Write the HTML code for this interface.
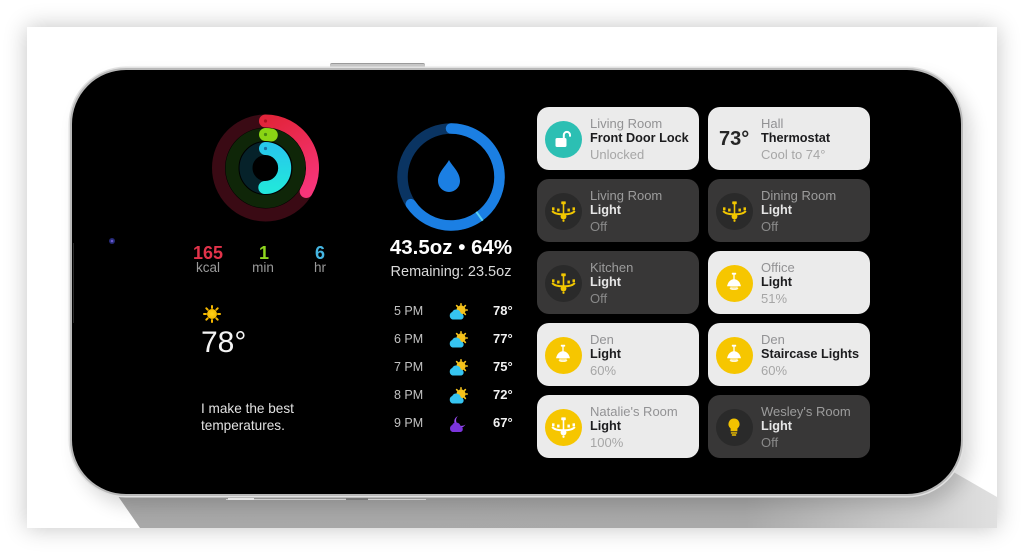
<!DOCTYPE html>
<html>
<head>
<meta charset="utf-8">
<style>
  html,body{margin:0;padding:0;}
  body{width:1024px;height:555px;overflow:hidden;background:#fff;position:relative;font-family:"Liberation Sans",Arial,sans-serif;}
  .abs{position:absolute;}
  .tile{position:absolute;width:162px;height:63px;border-radius:12px;}
  .light{background:#ebebeb;}
  .dark{background:#383737;}
  .ic{position:absolute;left:7.5px;top:13.5px;width:37px;height:37px;border-radius:50%;display:flex;align-items:center;justify-content:center;}
  .txt{position:absolute;left:53px;top:9px;line-height:15.4px;white-space:nowrap;}
  .txt .r{font-size:13px;}
  .txt .n{font-size:12.7px;font-weight:bold;}
  .txt .s{font-size:13px;}
  .light .r{color:#929294;} .light .n{color:#1c1c1e;} .light .s{color:#a6a6a6;}
  .dark .r{color:#9c9c9c;} .dark .n{color:#e6e6e6;} .dark .s{color:#8a8a8a;}
  .hr{position:absolute;left:394px;font-size:12.5px;color:#c2c2c2;line-height:16px;}
  .ht{position:absolute;left:493px;font-size:13px;color:#f2f2f2;font-weight:bold;line-height:16px;}
</style>
</head>
<body>
<!-- card -->
<div class="abs" style="left:27px;top:27px;width:970px;height:501px;background:#fff;box-shadow:0 0 22px rgba(0,0,0,.24);"></div>
<!-- bottom shadow band -->
<div class="abs" style="left:100px;top:470px;width:897px;height:58px;background:linear-gradient(to right,#a8a8a8 0%,#a9a9a9 72%,#e0e0e0 100%);clip-path:polygon(0 0,850px 0,897px 27px,100% 100%,40px 100%);"></div>
<!-- top button -->
<div class="abs" style="left:330px;top:62.5px;width:95px;height:4px;background:#c9c9c9;border-radius:2px;border-top:1px solid #9c9c9c;"></div>
<!-- phone -->
<div class="abs" style="left:70px;top:68px;width:889px;height:424px;background:#000;border:2px solid #b9b9b9;border-radius:56px;box-shadow:0 0 0 1.5px #e2e2e2, 8px 10px 18px rgba(0,0,0,.16);"></div>
<!-- bottom buttons details -->
<div class="abs" style="left:226px;top:499px;width:200px;height:1px;background:#cfcfcf;"></div>
<div class="abs" style="left:228px;top:498px;width:26px;height:2px;background:#e6e6e6;"></div>
<div class="abs" style="left:346px;top:498px;width:22px;height:2px;background:#777;"></div>

<!-- graphics -->
<svg class="abs" style="left:0;top:0" width="1024" height="555" viewBox="0 0 1024 555">
  <defs>
    <linearGradient id="rg" gradientUnits="userSpaceOnUse" x1="265" y1="121" x2="306" y2="192">
      <stop offset="0" stop-color="#e2243a"/><stop offset="1" stop-color="#f7357a"/>
    </linearGradient>
    <linearGradient id="cg" gradientUnits="userSpaceOnUse" x1="265" y1="148" x2="265" y2="188">
      <stop offset="0" stop-color="#27c8ec"/><stop offset="1" stop-color="#22e6dc"/>
    </linearGradient>
    <radialGradient id="sunglow"><stop offset="0" stop-color="#ffd21a"/><stop offset="1" stop-color="#f5b800"/></radialGradient>
  </defs>
  <line x1="73.5" y1="243" x2="73.5" y2="323" stroke="#2a2a2a" stroke-width="1"/>
  <circle cx="112" cy="241" r="3" fill="#262a78"/>
  <circle cx="112" cy="241" r="1.3" fill="#6a5ad0"/>

  <!-- activity rings -->
  <circle cx="265.5" cy="168" r="47" fill="none" stroke="#3a0a14" stroke-width="13"/>
  <circle cx="265.5" cy="168" r="33.5" fill="none" stroke="#0f2608" stroke-width="13"/>
  <circle cx="265.5" cy="168" r="19.5" fill="none" stroke="#06222a" stroke-width="13"/>
  <path d="M265.5 121 A47 47 0 0 1 306.2 191.5" fill="none" stroke="url(#rg)" stroke-width="13" stroke-linecap="round"/>
  <path d="M265.5 134.5 A33.5 33.5 0 0 1 271.3 135" fill="none" stroke="#8ad414" stroke-width="13" stroke-linecap="round"/>
  <path d="M265.5 148.5 A19.5 19.5 0 1 1 264.8 187.5" fill="none" stroke="url(#cg)" stroke-width="13" stroke-linecap="round"/>
  <circle cx="265.5" cy="121" r="1.6" fill="#b01020"/>
  <circle cx="265.5" cy="134.5" r="1.6" fill="#4a8a10"/>
  <circle cx="265.5" cy="148.5" r="1.6" fill="#1a70a0"/>

  <!-- water ring -->
  <circle cx="451" cy="177" r="48.5" fill="none" stroke="#0a3462" stroke-width="10.5"/>
  <path d="M451 128.5 A48.5 48.5 0 1 1 410.8 204.1" fill="none" stroke="#1b7fe3" stroke-width="10.5" stroke-linecap="round"/>
  <line x1="476.3" y1="211.8" x2="482.7" y2="220.7" stroke="#5ad2f5" stroke-width="2"/>
  <path d="M449 160 C452 166 460 172 460 181 A11 11 0 0 1 438 181 C438 172 446 166 449 160 Z" fill="#1b7fe3"/>

  <!-- left sun -->
  <g transform="translate(212,314)">
    <g stroke="#f5b800" stroke-width="2" stroke-linecap="round">
      <line x1="0" y1="-8" x2="0" y2="-6"/><line x1="0" y1="8" x2="0" y2="6"/>
      <line x1="-8" y1="0" x2="-6" y2="0"/><line x1="8" y1="0" x2="6" y2="0"/>
      <line x1="-5.7" y1="-5.7" x2="-4.3" y2="-4.3"/><line x1="5.7" y1="5.7" x2="4.3" y2="4.3"/>
      <line x1="-5.7" y1="5.7" x2="-4.3" y2="4.3"/><line x1="5.7" y1="-5.7" x2="4.3" y2="-4.3"/>
    </g>
    <circle r="5" fill="url(#sunglow)"/>
  </g>

  <!-- hourly icons -->
  <g transform="translate(449,303)">
    <g stroke="#f5c21b" stroke-width="1.6" stroke-linecap="round">
      <line x1="12" y1="0.8" x2="12" y2="2"/><line x1="18.2" y1="7" x2="17" y2="7"/>
      <line x1="16.4" y1="2.6" x2="15.5" y2="3.5"/><line x1="16.4" y1="11.4" x2="15.5" y2="10.5"/>
      <line x1="7.6" y1="2.6" x2="8.5" y2="3.5"/>
    </g>
    <circle cx="12" cy="7" r="4.6" fill="#f5c21b"/>
    <path d="M3.5 16.5 A4 4 0 0 1 3.2 9 A4.6 4.6 0 0 1 11.8 10.5 A3 3 0 0 1 11.5 16.5 Z" fill="#36c4f0"/>
  </g>
  <g transform="translate(449,331)">
    <g stroke="#f5c21b" stroke-width="1.6" stroke-linecap="round">
      <line x1="12" y1="0.8" x2="12" y2="2"/><line x1="18.2" y1="7" x2="17" y2="7"/>
      <line x1="16.4" y1="2.6" x2="15.5" y2="3.5"/><line x1="16.4" y1="11.4" x2="15.5" y2="10.5"/>
      <line x1="7.6" y1="2.6" x2="8.5" y2="3.5"/>
    </g>
    <circle cx="12" cy="7" r="4.6" fill="#f5c21b"/>
    <path d="M3.5 16.5 A4 4 0 0 1 3.2 9 A4.6 4.6 0 0 1 11.8 10.5 A3 3 0 0 1 11.5 16.5 Z" fill="#36c4f0"/>
  </g>
  <g transform="translate(449,359)">
    <g stroke="#f5c21b" stroke-width="1.6" stroke-linecap="round">
      <line x1="12" y1="0.8" x2="12" y2="2"/><line x1="18.2" y1="7" x2="17" y2="7"/>
      <line x1="16.4" y1="2.6" x2="15.5" y2="3.5"/><line x1="16.4" y1="11.4" x2="15.5" y2="10.5"/>
      <line x1="7.6" y1="2.6" x2="8.5" y2="3.5"/>
    </g>
    <circle cx="12" cy="7" r="4.6" fill="#f5c21b"/>
    <path d="M3.5 16.5 A4 4 0 0 1 3.2 9 A4.6 4.6 0 0 1 11.8 10.5 A3 3 0 0 1 11.5 16.5 Z" fill="#36c4f0"/>
  </g>
  <g transform="translate(449,387)">
    <g stroke="#f5c21b" stroke-width="1.6" stroke-linecap="round">
      <line x1="12" y1="0.8" x2="12" y2="2"/><line x1="18.2" y1="7" x2="17" y2="7"/>
      <line x1="16.4" y1="2.6" x2="15.5" y2="3.5"/><line x1="16.4" y1="11.4" x2="15.5" y2="10.5"/>
      <line x1="7.6" y1="2.6" x2="8.5" y2="3.5"/>
    </g>
    <circle cx="12" cy="7" r="4.6" fill="#f5c21b"/>
    <path d="M3.5 16.5 A4 4 0 0 1 3.2 9 A4.6 4.6 0 0 1 11.8 10.5 A3 3 0 0 1 11.5 16.5 Z" fill="#36c4f0"/>
  </g>
  <g transform="translate(449,415)">
    <path d="M9 1 A6 6 0 1 0 16.5 9.5 A5 5 0 0 1 9 1 Z" fill="#9a4cf5"/>
    <path d="M3.5 17 A3.8 3.8 0 0 1 3.2 10 A4.4 4.4 0 0 1 11.5 11.3 A2.9 2.9 0 0 1 11.3 17 Z" fill="#7b34dc"/>
  </g>
</svg>

<!-- activity stats -->
<div class="abs" style="left:178px;top:243px;width:60px;text-align:center;font-size:18px;font-weight:bold;color:#e2334a;line-height:20px;">165</div>
<div class="abs" style="left:178px;top:260px;width:60px;text-align:center;font-size:13.5px;color:#9a9a9a;line-height:16px;">kcal</div>
<div class="abs" style="left:234px;top:243px;width:60px;text-align:center;font-size:18px;font-weight:bold;color:#8fd61e;line-height:20px;">1</div>
<div class="abs" style="left:233px;top:260px;width:60px;text-align:center;font-size:13.5px;color:#9a9a9a;line-height:16px;">min</div>
<div class="abs" style="left:290px;top:243px;width:60px;text-align:center;font-size:18px;font-weight:bold;color:#45b6e2;line-height:20px;">6</div>
<div class="abs" style="left:290px;top:260px;width:60px;text-align:center;font-size:13.5px;color:#9a9a9a;line-height:16px;">hr</div>

<!-- water text -->
<div class="abs" style="left:371px;top:237px;width:160px;text-align:center;font-size:20.5px;font-weight:bold;color:#fff;line-height:22px;">43.5oz • 64%</div>
<div class="abs" style="left:371px;top:263px;width:160px;text-align:center;font-size:14.5px;color:#dadada;line-height:18px;">Remaining: 23.5oz</div>

<!-- weather -->
<div class="abs" style="left:201px;top:325px;font-size:30px;color:#f4f4f4;line-height:35px;">78°</div>
<div class="abs" style="left:201px;top:400px;font-size:13.6px;color:#e2e2e2;line-height:17px;">I make the best<br>temperatures.</div>

<div class="hr" style="top:303px;">5 PM</div><div class="ht" style="top:303px;">78°</div>
<div class="hr" style="top:331px;">6 PM</div><div class="ht" style="top:331px;">77°</div>
<div class="hr" style="top:359px;">7 PM</div><div class="ht" style="top:359px;">75°</div>
<div class="hr" style="top:387px;">8 PM</div><div class="ht" style="top:387px;">72°</div>
<div class="hr" style="top:415px;">9 PM</div><div class="ht" style="top:415px;">67°</div>

<!-- tiles -->
<div class="tile light" style="left:537px;top:107px;">
  <div class="ic" style="background:#2cbfb3;">
    <svg width="24" height="24" viewBox="0 0 24 24"><rect x="4.5" y="11" width="11" height="9" rx="1.6" fill="#fff"/><path d="M12.8 11 V8 a3.1 3.1 0 0 1 6.2 0 V9.6" stroke="#fff" stroke-width="2" fill="none"/></svg>
  </div>
  <div class="txt"><div class="r">Living Room</div><div class="n">Front Door Lock</div><div class="s">Unlocked</div></div>
</div>
<div class="tile light" style="left:708px;top:107px;">
  <div class="abs" style="left:11px;top:21px;font-size:20px;font-weight:bold;color:#262626;line-height:22px;">73°</div>
  <div class="txt"><div class="r">Hall</div><div class="n">Thermostat</div><div class="s">Cool to 74°</div></div>
</div>
<div class="tile dark" style="left:537px;top:179px;">
  <div class="ic" style="background:#2a2a2a;">
    <svg width="27" height="27" viewBox="0 0 24 24"><g fill="#f2c700"><rect x="10" y="3" width="4" height="2.5" rx=".5"/><rect x="11.3" y="5" width="1.4" height="10"/><circle cx="12" cy="16.5" r="2.6"/><circle cx="12" cy="20.2" r="1"/><rect x="1.8" y="8.3" width="2.2" height="2.6"/><rect x="6.3" y="9.4" width="2.2" height="2.6"/><rect x="15.5" y="9.4" width="2.2" height="2.6"/><rect x="20" y="8.3" width="2.2" height="2.6"/></g><path d="M2 11.5 Q4 14.5 12 14.5 Q20 14.5 22 11.5" stroke="#f2c700" stroke-width="1.8" fill="none"/></svg>
  </div>
  <div class="txt"><div class="r">Living Room</div><div class="n">Light</div><div class="s">Off</div></div>
</div>
<div class="tile dark" style="left:708px;top:179px;">
  <div class="ic" style="background:#2a2a2a;">
    <svg width="27" height="27" viewBox="0 0 24 24"><g fill="#f2c700"><rect x="10" y="3" width="4" height="2.5" rx=".5"/><rect x="11.3" y="5" width="1.4" height="10"/><circle cx="12" cy="16.5" r="2.6"/><circle cx="12" cy="20.2" r="1"/><rect x="1.8" y="8.3" width="2.2" height="2.6"/><rect x="6.3" y="9.4" width="2.2" height="2.6"/><rect x="15.5" y="9.4" width="2.2" height="2.6"/><rect x="20" y="8.3" width="2.2" height="2.6"/></g><path d="M2 11.5 Q4 14.5 12 14.5 Q20 14.5 22 11.5" stroke="#f2c700" stroke-width="1.8" fill="none"/></svg>
  </div>
  <div class="txt"><div class="r">Dining Room</div><div class="n">Light</div><div class="s">Off</div></div>
</div>
<div class="tile dark" style="left:537px;top:251px;">
  <div class="ic" style="background:#2a2a2a;">
    <svg width="27" height="27" viewBox="0 0 24 24"><g fill="#f2c700"><rect x="10" y="3" width="4" height="2.5" rx=".5"/><rect x="11.3" y="5" width="1.4" height="10"/><circle cx="12" cy="16.5" r="2.6"/><circle cx="12" cy="20.2" r="1"/><rect x="1.8" y="8.3" width="2.2" height="2.6"/><rect x="6.3" y="9.4" width="2.2" height="2.6"/><rect x="15.5" y="9.4" width="2.2" height="2.6"/><rect x="20" y="8.3" width="2.2" height="2.6"/></g><path d="M2 11.5 Q4 14.5 12 14.5 Q20 14.5 22 11.5" stroke="#f2c700" stroke-width="1.8" fill="none"/></svg>
  </div>
  <div class="txt"><div class="r">Kitchen</div><div class="n">Light</div><div class="s">Off</div></div>
</div>
<div class="tile light" style="left:708px;top:251px;">
  <div class="ic" style="background:#f6c600;">
    <svg width="26" height="26" viewBox="0 0 24 24"><g fill="#fff"><rect x="10" y="2.5" width="4" height="1.8" rx=".5"/><rect x="11.4" y="4" width="1.2" height="5"/><path d="M12 8.5 C8.2 8.5 6.2 11.8 5.6 15 L18.4 15 C17.8 11.8 15.8 8.5 12 8.5Z"/><ellipse cx="12" cy="17" rx="4" ry="1.5" fill="#fff" opacity=".85"/></g><path d="M8 15 Q12 19 16 15" fill="#fbe48a"/></svg>
  </div>
  <div class="txt"><div class="r">Office</div><div class="n">Light</div><div class="s">51%</div></div>
</div>
<div class="tile light" style="left:537px;top:323px;">
  <div class="ic" style="background:#f6c600;">
    <svg width="26" height="26" viewBox="0 0 24 24"><g fill="#fff"><rect x="10" y="2.5" width="4" height="1.8" rx=".5"/><rect x="11.4" y="4" width="1.2" height="5"/><path d="M12 8.5 C8.2 8.5 6.2 11.8 5.6 15 L18.4 15 C17.8 11.8 15.8 8.5 12 8.5Z"/><ellipse cx="12" cy="17" rx="4" ry="1.5" fill="#fff" opacity=".85"/></g><path d="M8 15 Q12 19 16 15" fill="#fbe48a"/></svg>
  </div>
  <div class="txt"><div class="r">Den</div><div class="n">Light</div><div class="s">60%</div></div>
</div>
<div class="tile light" style="left:708px;top:323px;">
  <div class="ic" style="background:#f6c600;">
    <svg width="26" height="26" viewBox="0 0 24 24"><g fill="#fff"><rect x="10" y="2.5" width="4" height="1.8" rx=".5"/><rect x="11.4" y="4" width="1.2" height="5"/><path d="M12 8.5 C8.2 8.5 6.2 11.8 5.6 15 L18.4 15 C17.8 11.8 15.8 8.5 12 8.5Z"/><ellipse cx="12" cy="17" rx="4" ry="1.5" fill="#fff" opacity=".85"/></g><path d="M8 15 Q12 19 16 15" fill="#fbe48a"/></svg>
  </div>
  <div class="txt"><div class="r">Den</div><div class="n">Staircase Lights</div><div class="s">60%</div></div>
</div>
<div class="tile light" style="left:537px;top:395px;">
  <div class="ic" style="background:#f6c600;">
    <svg width="27" height="27" viewBox="0 0 24 24"><g fill="#fff"><rect x="10" y="3" width="4" height="2.5" rx=".5"/><rect x="11.3" y="5" width="1.4" height="10"/><circle cx="12" cy="16.5" r="2.6"/><circle cx="12" cy="20.2" r="1"/><rect x="1.8" y="8.3" width="2.2" height="2.6"/><rect x="6.3" y="9.4" width="2.2" height="2.6"/><rect x="15.5" y="9.4" width="2.2" height="2.6"/><rect x="20" y="8.3" width="2.2" height="2.6"/></g><path d="M2 11.5 Q4 14.5 12 14.5 Q20 14.5 22 11.5" stroke="#fff" stroke-width="1.8" fill="none"/></svg>
  </div>
  <div class="txt"><div class="r">Natalie's Room</div><div class="n">Light</div><div class="s">100%</div></div>
</div>
<div class="tile dark" style="left:708px;top:395px;">
  <div class="ic" style="background:#2a2a2a;">
    <svg width="24" height="24" viewBox="0 0 24 24"><g fill="#f2c200"><path d="M12 3.5 a5.6 5.6 0 0 1 3.4 10 V16.2 h-6.8 v-2.7 A5.6 5.6 0 0 1 12 3.5Z"/><rect x="8.8" y="17.2" width="6.4" height="1.4" rx=".6"/><rect x="9.8" y="19.3" width="4.4" height="1.4" rx=".6"/></g></svg>
  </div>
  <div class="txt"><div class="r">Wesley's Room</div><div class="n">Light</div><div class="s">Off</div></div>
</div>
</body>
</html>
